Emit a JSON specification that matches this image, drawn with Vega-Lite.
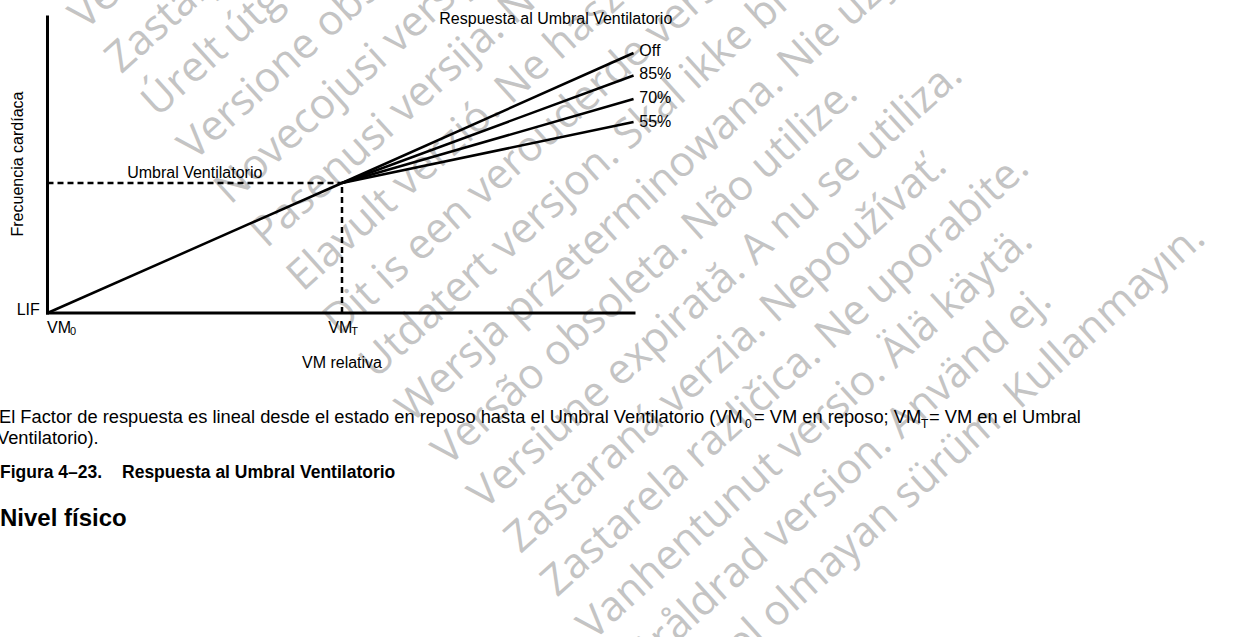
{
  "$schema": "https://vega.github.io/schema/vega-lite/v6.json",
  "width": 1240,
  "height": 637,
  "autosize": {"type": "none"},
  "padding": 0,
  "background": "white",
  "config": {"view": {"stroke": null}},
  "datasets": {
    "watermark": [
      {"text": "Version périmée. Ne pas utiliser.", "x": 0.1273, "y": 2.1692},
      {"text": "Zastarjela verzija. Nemojte upotrebljavati.", "x": 0.2506, "y": 1.8338},
      {"text": "Úrelt útgáfa. Notið ekki.", "x": 0.3739, "y": 1.4985},
      {"text": "Versione obsoleta. Non utilizzare.", "x": 0.4971, "y": 1.1631},
      {"text": "Novecojusi versija. Neizmantot.", "x": 0.6204, "y": 0.8277},
      {"text": "Pasenusi versija. Nenaudokite.", "x": 0.7436, "y": 0.4923},
      {"text": "Elavult verzió. Ne használja!", "x": 0.8669, "y": 0.1569},
      {"text": "Dit is een verouderde versie. Niet gebruiken.", "x": 0.9902, "y": -0.1785},
      {"text": "Utdatert versjon. Skal ikke brukes.", "x": 1.1134, "y": -0.5138},
      {"text": "Wersja przeterminowana. Nie używać.", "x": 1.2367, "y": -0.8492},
      {"text": "Versão obsoleta. Não utilize.", "x": 1.3599, "y": -1.1846},
      {"text": "Versiune expirată. A nu se utiliza.", "x": 1.4832, "y": -1.52},
      {"text": "Zastaraná verzia. Nepoužívať.", "x": 1.6065, "y": -1.8554},
      {"text": "Zastarela različica. Ne uporabite.", "x": 1.7297, "y": -2.1908},
      {"text": "Vanhentunut versio. Älä käytä.", "x": 1.853, "y": -2.5262},
      {"text": "Föråldrad version. Använd ej.", "x": 1.9762, "y": -2.8615},
      {"text": "Güncel olmayan sürüm. Kullanmayın.", "x": 2.0995, "y": -3.1969}
    ],
    "axes": [
      {"name": "Frecuencia cardíaca", "x": 0, "y": 0, "x2": 0, "y2": 2.277},
      {"name": "VM relativa", "x": 0, "y": 0, "x2": 1.9915, "y2": 0}
    ],
    "guides": [
      {"name": "Umbral Ventilatorio", "x": 0, "y": 1, "x2": 1, "y2": 1},
      {"name": "VMT", "x": 1, "y": 0, "x2": 1, "y2": 1}
    ],
    "responses": [
      {"series": "Reposo a umbral", "x": 0, "y": 0},
      {"series": "Reposo a umbral", "x": 1, "y": 1},
      {"series": "Off", "x": 1, "y": 1},
      {"series": "Off", "x": 1.99, "y": 2.0},
      {"series": "85%", "x": 1, "y": 1},
      {"series": "85%", "x": 1.99, "y": 1.827},
      {"series": "70%", "x": 1, "y": 1},
      {"series": "70%", "x": 1.99, "y": 1.646},
      {"series": "55%", "x": 1, "y": 1},
      {"series": "55%", "x": 1.99, "y": 1.469}
    ],
    "labels": [
      {"text": "LIF", "x": -0.1046, "y": -0.015},
      {"text": "Off", "x": 2.0095, "y": 1.977},
      {"text": "85%", "x": 2.0095, "y": 1.8},
      {"text": "70%", "x": 2.0095, "y": 1.615},
      {"text": "55%", "x": 2.0095, "y": 1.431},
      {"text": "VM", "x": -0.0017, "y": -0.154},
      {"text": "VM", "x": 0.9535, "y": -0.154}
    ],
    "subs": [
      {"text": "0", "x": -0.0017, "y": -0.154},
      {"text": "T", "x": 0.9535, "y": -0.154}
    ],
    "centered": [
      {"text": "Umbral Ventilatorio", "x": 0.5, "y": 1.038},
      {"text": "Respuesta al Umbral Ventilatorio", "x": 1.726, "y": 2.223},
      {"text": "VM relativa", "x": 1.0, "y": -0.423}
    ],
    "ytitle": [
      {"text": "Frecuencia cardíaca", "x": -0.0832, "y": 1.146}
    ],
    "caption": [
      {"text": "El Factor de respuesta es lineal desde el estado en reposo hasta el Umbral Ventilatorio (VM", "x": -0.1647, "y": -0.846},
      {"text": " = VM en reposo; VM", "x": 2.399, "y": -0.846},
      {"text": " = VM en el Umbral", "x": 2.9932, "y": -0.846},
      {"text": "Ventilatorio).", "x": -0.1715, "y": -1.008}
    ],
    "captionSubs": [
      {"text": "0", "x": 2.3684, "y": -0.846},
      {"text": "T", "x": 2.966, "y": -0.846}
    ],
    "figure": [
      {"text": "Figura 4–23.", "x": -0.1613, "y": -1.269},
      {"text": "Respuesta al Umbral Ventilatorio", "x": 0.253, "y": -1.269}
    ],
    "heading": [
      {"text": "Nivel físico", "x": -0.1613, "y": -1.638}
    ]
  },
  "layer": [
    {
      "data": {"name": "watermark"},
      "mark": {"type": "text", "align": "left", "baseline": "alphabetic", "angle": -42, "font": "Open Sans", "fontSize": 42, "color": "#c4c4c4"},
      "encoding": {
        "x": {"field": "x", "type": "quantitative", "scale": {"domain": [-0.16129, 4.04924], "nice": false, "zero": false}, "axis": null},
        "y": {"field": "y", "type": "quantitative", "scale": {"domain": [-2.49231, 2.40769], "nice": false, "zero": false}, "axis": null},
        "text": {"field": "text"}
      }
    },
    {
      "data": {"name": "axes"},
      "mark": {"type": "rule", "color": "black", "strokeWidth": 3, "strokeCap": "square"},
      "encoding": {
        "x": {"field": "x", "type": "quantitative", "scale": {"domain": [-0.16129, 4.04924], "nice": false, "zero": false}, "axis": null},
        "y": {"field": "y", "type": "quantitative", "scale": {"domain": [-2.49231, 2.40769], "nice": false, "zero": false}, "axis": null},
        "x2": {"field": "x2"},
        "y2": {"field": "y2"}
      }
    },
    {
      "data": {"name": "guides"},
      "mark": {"type": "rule", "color": "black", "strokeWidth": 2.5, "strokeDash": [6, 4]},
      "encoding": {
        "x": {"field": "x", "type": "quantitative", "scale": {"domain": [-0.16129, 4.04924], "nice": false, "zero": false}, "axis": null},
        "y": {"field": "y", "type": "quantitative", "scale": {"domain": [-2.49231, 2.40769], "nice": false, "zero": false}, "axis": null},
        "x2": {"field": "x2"},
        "y2": {"field": "y2"}
      }
    },
    {
      "data": {"name": "responses"},
      "mark": {"type": "line", "color": "black", "strokeWidth": 2.5},
      "encoding": {
        "x": {"field": "x", "type": "quantitative", "scale": {"domain": [-0.16129, 4.04924], "nice": false, "zero": false}, "axis": null},
        "y": {"field": "y", "type": "quantitative", "scale": {"domain": [-2.49231, 2.40769], "nice": false, "zero": false}, "axis": null},
        "detail": {"field": "series", "type": "nominal"}
      }
    },
    {
      "data": {"name": "labels"},
      "mark": {"type": "text", "align": "left", "baseline": "alphabetic", "font": "Liberation Sans", "fontSize": 16, "color": "black"},
      "encoding": {
        "x": {"field": "x", "type": "quantitative", "scale": {"domain": [-0.16129, 4.04924], "nice": false, "zero": false}, "axis": null},
        "y": {"field": "y", "type": "quantitative", "scale": {"domain": [-2.49231, 2.40769], "nice": false, "zero": false}, "axis": null},
        "text": {"field": "text"}
      }
    },
    {
      "data": {"name": "subs"},
      "mark": {"type": "text", "align": "left", "baseline": "alphabetic", "font": "Liberation Sans", "fontSize": 11, "dx": 23, "dy": 2, "color": "black"},
      "encoding": {
        "x": {"field": "x", "type": "quantitative", "scale": {"domain": [-0.16129, 4.04924], "nice": false, "zero": false}, "axis": null},
        "y": {"field": "y", "type": "quantitative", "scale": {"domain": [-2.49231, 2.40769], "nice": false, "zero": false}, "axis": null},
        "text": {"field": "text"}
      }
    },
    {
      "data": {"name": "centered"},
      "mark": {"type": "text", "align": "center", "baseline": "alphabetic", "font": "Liberation Sans", "fontSize": 16, "color": "black"},
      "encoding": {
        "x": {"field": "x", "type": "quantitative", "scale": {"domain": [-0.16129, 4.04924], "nice": false, "zero": false}, "axis": null},
        "y": {"field": "y", "type": "quantitative", "scale": {"domain": [-2.49231, 2.40769], "nice": false, "zero": false}, "axis": null},
        "text": {"field": "text"}
      }
    },
    {
      "data": {"name": "ytitle"},
      "mark": {"type": "text", "align": "center", "baseline": "alphabetic", "angle": 270, "font": "Liberation Sans", "fontSize": 16, "color": "black"},
      "encoding": {
        "x": {"field": "x", "type": "quantitative", "scale": {"domain": [-0.16129, 4.04924], "nice": false, "zero": false}, "axis": null},
        "y": {"field": "y", "type": "quantitative", "scale": {"domain": [-2.49231, 2.40769], "nice": false, "zero": false}, "axis": null},
        "text": {"field": "text"}
      }
    },
    {
      "data": {"name": "caption"},
      "mark": {"type": "text", "align": "left", "baseline": "alphabetic", "font": "Liberation Sans", "fontSize": 18.3, "color": "black"},
      "encoding": {
        "x": {"field": "x", "type": "quantitative", "scale": {"domain": [-0.16129, 4.04924], "nice": false, "zero": false}, "axis": null},
        "y": {"field": "y", "type": "quantitative", "scale": {"domain": [-2.49231, 2.40769], "nice": false, "zero": false}, "axis": null},
        "text": {"field": "text"}
      }
    },
    {
      "data": {"name": "captionSubs"},
      "mark": {"type": "text", "align": "left", "baseline": "alphabetic", "font": "Liberation Sans", "fontSize": 12, "dy": 5, "color": "black"},
      "encoding": {
        "x": {"field": "x", "type": "quantitative", "scale": {"domain": [-0.16129, 4.04924], "nice": false, "zero": false}, "axis": null},
        "y": {"field": "y", "type": "quantitative", "scale": {"domain": [-2.49231, 2.40769], "nice": false, "zero": false}, "axis": null},
        "text": {"field": "text"}
      }
    },
    {
      "data": {"name": "figure"},
      "mark": {"type": "text", "align": "left", "baseline": "alphabetic", "font": "Liberation Sans", "fontSize": 17.5, "fontWeight": "bold", "color": "black"},
      "encoding": {
        "x": {"field": "x", "type": "quantitative", "scale": {"domain": [-0.16129, 4.04924], "nice": false, "zero": false}, "axis": null},
        "y": {"field": "y", "type": "quantitative", "scale": {"domain": [-2.49231, 2.40769], "nice": false, "zero": false}, "axis": null},
        "text": {"field": "text"}
      }
    },
    {
      "data": {"name": "heading"},
      "mark": {"type": "text", "align": "left", "baseline": "alphabetic", "font": "Liberation Sans", "fontSize": 24, "fontWeight": "bold", "color": "black"},
      "encoding": {
        "x": {"field": "x", "type": "quantitative", "scale": {"domain": [-0.16129, 4.04924], "nice": false, "zero": false}, "axis": null},
        "y": {"field": "y", "type": "quantitative", "scale": {"domain": [-2.49231, 2.40769], "nice": false, "zero": false}, "axis": null},
        "text": {"field": "text"}
      }
    }
  ]
}
